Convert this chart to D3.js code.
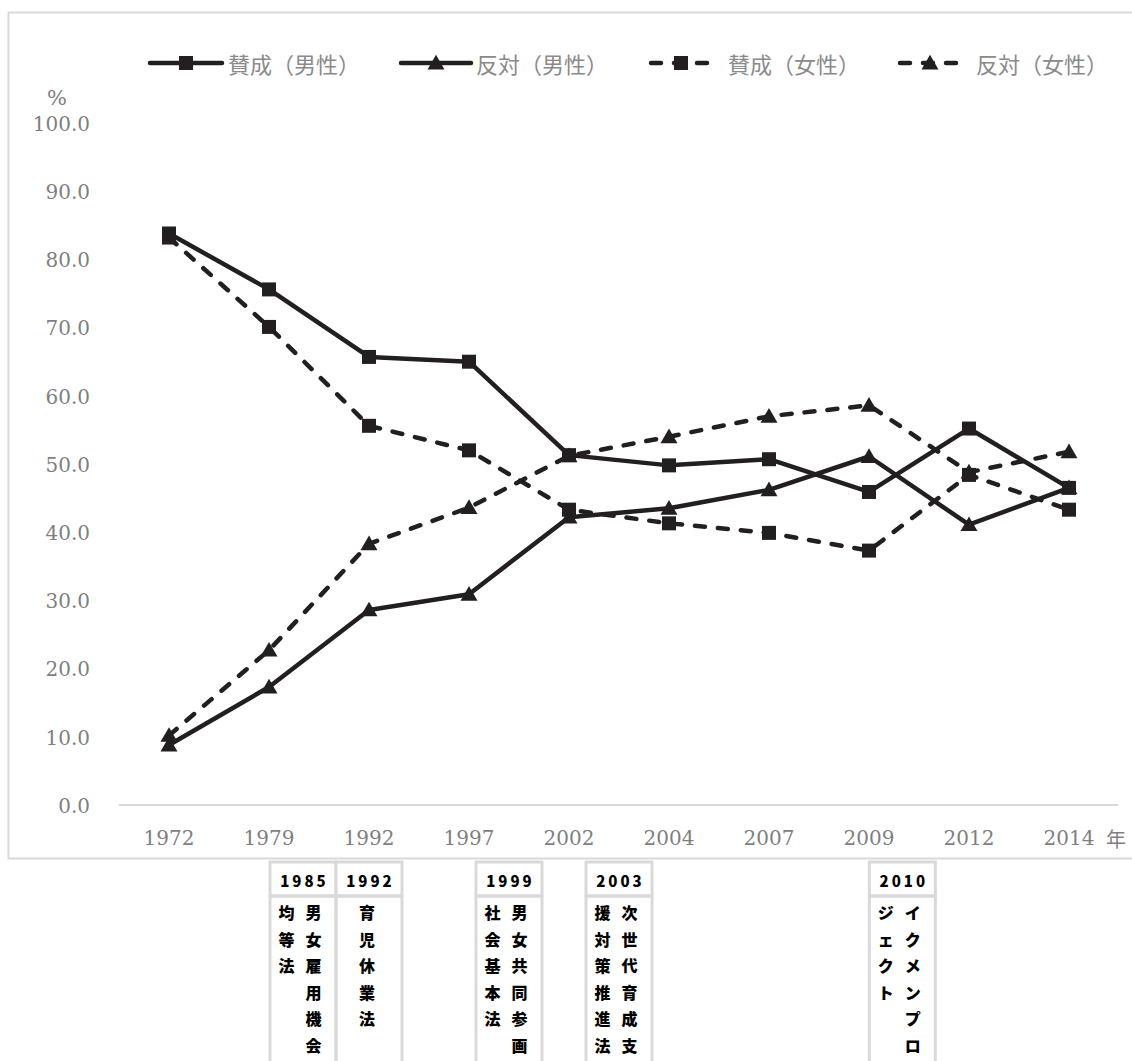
<!DOCTYPE html>
<html lang="ja">
<head>
<meta charset="utf-8">
<script src="https://cdn.jsdelivr.net/npm/d3@7"></script>
<style>
  html, body { margin: 0; padding: 0; background: #fff; }
  svg { display: block; }
</style>
</head>
<body>
<svg id="chart" width="1132" height="1061"></svg>
<script>
// Survey years (x categories)
const years = ["1972", "1979", "1992", "1997", "2002", "2004", "2007", "2009", "2012", "2014"];

// Share of respondents (%) for "husband works outside, wife keeps the home"
const approveMale   = [83.8, 75.6, 65.7, 65.0, 51.3, 49.8, 50.7, 45.9, 55.2, 46.5];
const opposeMale    = [8.8, 17.3, 28.6, 30.9, 42.2, 43.5, 46.2, 51.1, 41.1, 46.5];
const approveFemale = [83.2, 70.1, 55.6, 52.0, 43.3, 41.3, 39.9, 37.3, 48.4, 43.3];
const opposeFemale  = [10.2, 22.7, 38.3, 43.6, 51.2, 54.0, 57.0, 58.6, 48.8, 51.8];

const seriesNames = ["賛成（男性）", "反対（男性）", "賛成（女性）", "反対（女性）"];

// Y axis ticks
const yTicks = [0, 10, 20, 30, 40, 50, 60, 70, 80, 90, 100];

// Related laws and policies shown under the timeline
const lawYears = ["1985", "1992", "1999", "2003", "2010"];
const lawNames = ["男女雇用機会均等法", "育児休業法", "男女共同参画社会基本法", "次世代育成支援対策推進法", "イクメンプロジェクト"];

const ink = "#231f20";
const labelGray = "#7f7f7f";
const ruleGray = "#d9d9d9";
const serif = "'DejaVu Serif', serif";
const cjk = "'Noto Sans CJK JP', 'Noto Sans', sans-serif";

const svg = d3.select("#chart");
svg.append("rect").attr("width", 1132).attr("height", 1061).attr("fill", "#fff");

// chart frame
svg.append("rect")
  .attr("x", 8.5).attr("y", 12.5)
  .attr("width", 1140).attr("height", 846)
  .attr("fill", "none").attr("stroke", ruleGray).attr("stroke-width", 2);

const x = d3.scaleBand().domain(years).range([119, 1119]).padding(0);
const y = d3.scaleLinear().domain([0, 100]).range([805, 123]);
const cx = d => x(d) + x.bandwidth() / 2;

// y axis labels
const yAxis = d3.axisLeft(y).tickValues(yTicks).tickFormat(d3.format(".1f")).tickSize(0).tickPadding(0);
const yg = svg.append("g").attr("transform", "translate(90,0)").call(yAxis);
yg.select(".domain").remove();
yg.selectAll("text").attr("font-family", serif).attr("font-size", 20).attr("fill", labelGray)
  .attr("dy", "0.36em").attr("x", 0);

svg.append("text").attr("x", 57).attr("y", 98).attr("text-anchor", "middle")
  .attr("dominant-baseline", "central")
  .attr("font-family", serif).attr("font-size", 21).attr("fill", labelGray).text("%");

// baseline
svg.append("line").attr("x1", 119).attr("x2", 1118).attr("y1", y(0)).attr("y2", y(0))
  .attr("stroke", ruleGray).attr("stroke-width", 2);

// x axis labels
const xAxis = d3.axisBottom(x).tickSize(0).tickPadding(0);
const xg = svg.append("g").attr("transform", "translate(0,838)").call(xAxis);
xg.select(".domain").remove();
xg.selectAll("text").attr("font-family", serif).attr("font-size", 20).attr("fill", labelGray)
  .attr("y", 0).attr("dy", "0.36em");
svg.append("text").attr("x", cx("2014") + 37).attr("y", 838).attr("dominant-baseline", "central")
  .attr("font-family", cjk).attr("font-size", 20).attr("fill", labelGray).text("年");

// marker shapes
const squarePath = d3.symbol().type(d3.symbolSquare).size(196);
const trianglePath = d3.symbol().type(d3.symbolTriangle).size(125);

const series = [
  { name: seriesNames[0], values: approveMale,   dashed: false, marker: "square" },
  { name: seriesNames[1], values: opposeMale,    dashed: false, marker: "triangle" },
  { name: seriesNames[2], values: approveFemale, dashed: true,  marker: "square" },
  { name: seriesNames[3], values: opposeFemale,  dashed: true,  marker: "triangle" }
];

const line = d3.line().x((d, i) => cx(years[i])).y(d => y(d));

function styleStroke(sel, dashed) {
  sel.attr("fill", "none").attr("stroke", ink).attr("stroke-width", 4.5)
    .attr("stroke-linejoin", "round")
    .attr("stroke-linecap", dashed ? "round" : "butt")
    .attr("stroke-dasharray", dashed ? "10,13" : null);
}
function markerPath(m) { return m === "square" ? squarePath() : trianglePath(); }

series.forEach(s => {
  const g = svg.append("g");
  g.append("path").datum(s.values).attr("d", line).call(styleStroke, s.dashed);
  g.selectAll("path.mk").data(s.values).join("path").attr("class", "mk")
    .attr("d", markerPath(s.marker))
    .attr("transform", (d, i) => `translate(${cx(years[i])},${y(d) + (s.marker === "triangle" ? 1.5 : 0)})`)
    .attr("fill", ink);
});

// legend: swatch line, marker, then label
const legendLayout = [
  { x0: 150, x1: 222, tx: 228 },
  { x0: 401, x1: 471, tx: 476 },
  { x0: 651, x1: 711, tx: 728 },
  { x0: 900, x1: 960, tx: 976 }
];
const ly = 63;
series.forEach((s, i) => {
  const L = legendLayout[i];
  const g = svg.append("g");
  g.append("line").attr("x1", L.x0).attr("x2", L.x1).attr("y1", ly).attr("y2", ly)
    .call(styleStroke, s.dashed)
    .attr("stroke-linecap", "round")
    .attr("stroke-dasharray", s.dashed ? "10,13" : null);
  g.append("path").attr("d", markerPath(s.marker))
    .attr("transform", `translate(${(L.x0 + L.x1) / 2},${ly + (s.marker === "triangle" ? 1.5 : 0)})`)
    .attr("fill", ink);
  g.append("text").attr("x", L.tx).attr("y", ly).attr("dominant-baseline", "central")
    .attr("font-family", cjk).attr("font-size", 22).attr("fill", "#8a8a8a").text(s.name);
});

// law timeline table: each cell placed at the year's position along the category axis
function yearToX(yr) {
  const v = +yr;
  for (let i = 0; i < years.length - 1; i++) {
    const a = +years[i], b = +years[i + 1];
    if (v >= a && v <= b) return cx(years[i]) + (cx(years[i + 1]) - cx(years[i])) * (v - a) / (b - a);
  }
  return cx(years[years.length - 1]);
}
const cellW = 66;
const cells = lawYears.map((yr, i) => ({ year: yr, name: lawNames[i], left: yearToX(yr) - cellW / 2 }));
for (let i = cells.length - 2; i >= 0; i--) {
  if (cells[i].left + cellW > cells[i + 1].left) cells[i].left = cells[i + 1].left - cellW;
}

const headTop = 862, headBottom = 896, bodyBottom = 1075;
const perCol = 6, charStep = 26.5, colGap = 27;

cells.forEach(c => {
  const g = svg.append("g");
  g.append("rect").attr("x", c.left).attr("y", headTop).attr("width", cellW).attr("height", headBottom - headTop)
    .attr("fill", "#fff").attr("stroke", ruleGray).attr("stroke-width", 3);
  g.append("rect").attr("x", c.left).attr("y", headBottom).attr("width", cellW).attr("height", bodyBottom - headBottom)
    .attr("fill", "none").attr("stroke", ruleGray).attr("stroke-width", 3);
  g.append("text").attr("x", c.left + cellW / 2 + 1.5).attr("y", 880)
    .attr("text-anchor", "middle").attr("dominant-baseline", "central")
    .attr("font-family", cjk).attr("font-weight", 900).attr("font-size", 15)
    .attr("letter-spacing", 3).attr("fill", "#000").text(c.year);

  // vertical text, columns read right to left
  const chars = Array.from(c.name);
  const cols = [];
  for (let k = 0; k < chars.length; k += perCol) cols.push(chars.slice(k, k + perCol));
  const mid = c.left + cellW / 2 - 3;
  cols.forEach((col, ci) => {
    const colX = cols.length === 1 ? mid + 1 : mid + colGap / 2 - ci * colGap;
    const t = g.append("text").attr("font-family", cjk).attr("font-weight", 900).attr("font-size", 16)
      .attr("fill", "#000").attr("text-anchor", "middle").attr("dominant-baseline", "central");
    col.forEach((ch, k) => {
      t.append("tspan").attr("x", colX).attr("y", 912 + k * charStep).text(ch);
    });
  });
});
</script>
</body>
</html>
